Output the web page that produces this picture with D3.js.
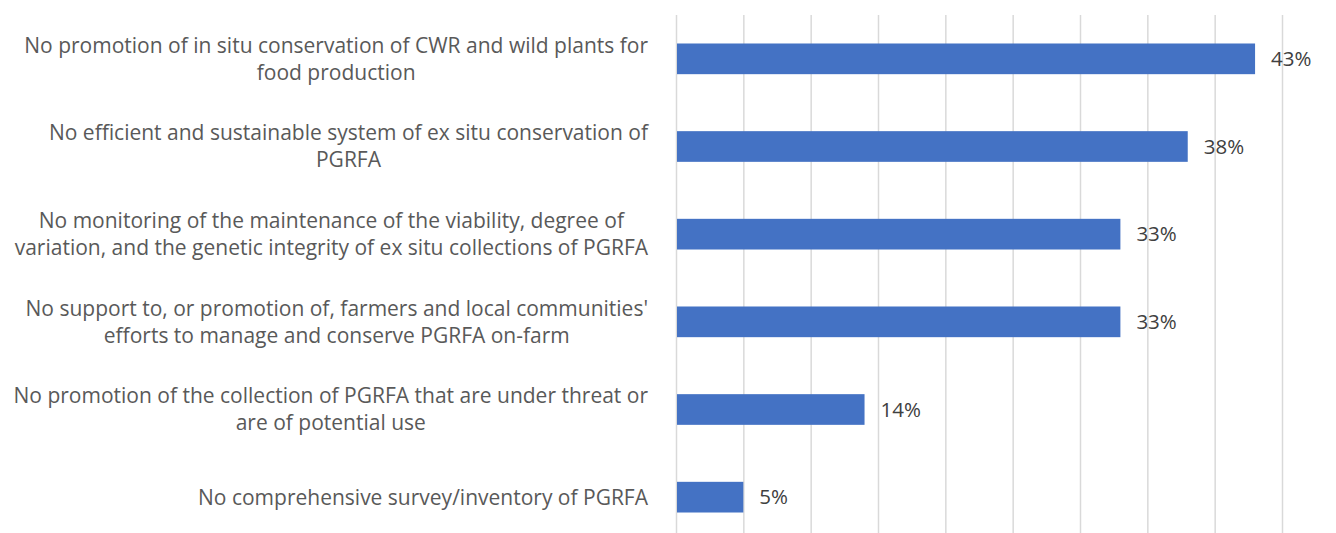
<!DOCTYPE html>
<html>
<head>
<meta charset="utf-8">
<script src="https://cdn.jsdelivr.net/npm/d3@7"></script>
<style>
  html, body { margin: 0; padding: 0; background: #fff; }
  svg { display: block; }
  text { font-family: "Open Sans", "Liberation Sans", sans-serif; }
</style>
</head>
<body>
<svg id="chart" width="1336" height="533"></svg>
<script>
// Gaps in national PGRFA conservation activities (share of respondents)
const categories = [
  ["No promotion of in situ conservation of CWR and wild plants for", "food production"],
  ["No efficient and sustainable system of ex situ conservation of", "PGRFA"],
  ["No monitoring of the maintenance of the viability, degree of", "variation, and the genetic integrity of ex situ collections of PGRFA"],
  ["No support to, or promotion of, farmers and local communities'", "efforts to manage and conserve PGRFA on-farm"],
  ["No promotion of the collection of PGRFA that are under threat or", "are of potential use"],
  ["No comprehensive survey/inventory of PGRFA"]
];
const values = [43, 38, 33, 33, 14, 5];
const tickValues = [0, 5, 10, 15, 20, 25, 30, 35, 40, 45];

const svg = d3.select("#chart");
const labelSize = 21;
const valueSize = 20.5;

const x = d3.scaleLinear().domain([0, 45]).range([676, 1282]);
const y = d3.scaleBand().domain(d3.range(categories.length)).range([15, 541]).padding(0);
const barH = y.bandwidth() * 0.35;

// vertical gridlines
svg.append("g")
  .attr("transform", "translate(0,541)")
  .call(d3.axisBottom(x).tickValues(tickValues).tickSize(-526).tickFormat(""))
  .call(g => g.select(".domain").remove())
  .call(g => g.selectAll(".tick line").attr("stroke", "#d9d9d9").attr("stroke-width", 1.5));

// bars
svg.append("g").selectAll("rect")
  .data(values)
  .join("rect")
  .attr("x", x(0) + 1)
  .attr("y", (d, i) => y(i) + y.bandwidth() / 2 - barH / 2)
  .attr("width", d => x(d) - x(0) - 1)
  .attr("height", barH)
  .attr("fill", "#4472c4");

// value labels
svg.append("g").selectAll("text")
  .data(values)
  .join("text")
  .attr("x", d => x(d) + 16)
  .attr("y", (d, i) => y(i) + y.bandwidth() / 2)
  .attr("dy", "0.35em")
  .attr("fill", "#404040")
  .style("font-size", valueSize + "px")
  .text(d => d + "%");

// category labels: wrapped lines centred on each other, block right-aligned
const labelRight = 648;
const lineH = 27;
const lab = svg.append("g");
categories.forEach((lines, i) => {
  const cy = y(i) + y.bandwidth() / 2;
  const g = lab.append("g");
  const texts = lines.map((s, k) => g.append("text")
    .attr("y", cy + (k - (lines.length - 1) / 2) * lineH)
    .attr("dy", "0.35em")
    .attr("fill", "#595959")
    .style("font-size", labelSize + "px")
    .text(s));
  const w = Math.max(...texts.map(t => t.node().getComputedTextLength()));
  const cx = labelRight - w / 2;
  texts.forEach(t => t.attr("x", cx).attr("text-anchor", "middle"));
});
</script>
</body>
</html>
